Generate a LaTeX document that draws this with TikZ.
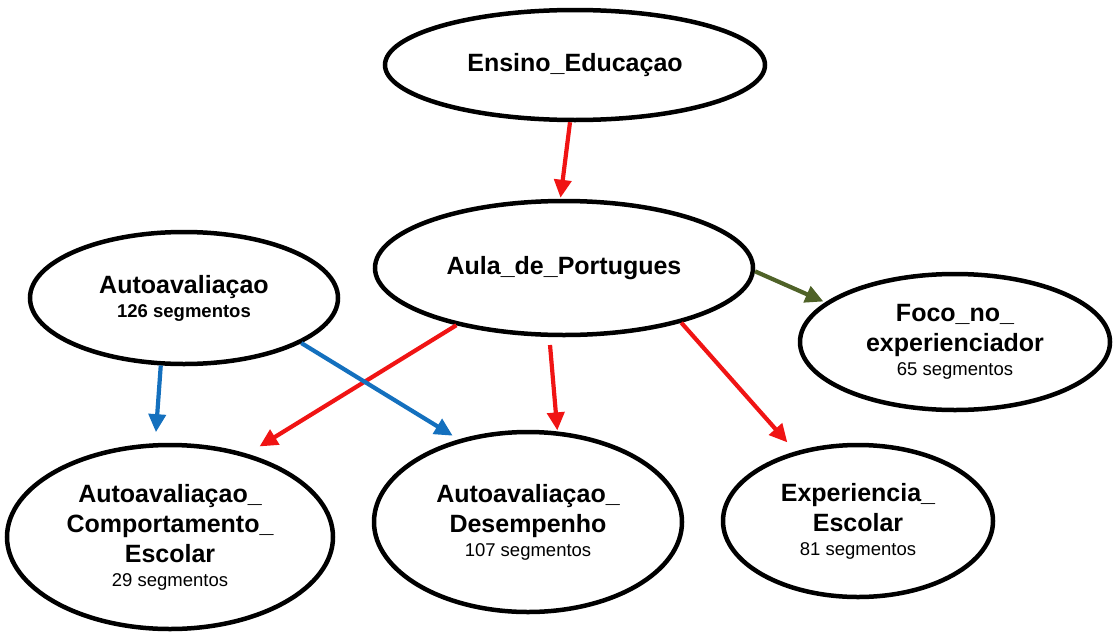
\documentclass[tikz,border=0pt]{standalone}
\usepackage{fontspec}
\setmainfont{Liberation Sans}
\usetikzlibrary{shapes.geometric,arrows.meta}
\definecolor{arrred}{RGB}{240,20,20}
\definecolor{arrblue}{RGB}{20,112,190}
\definecolor{arrgreen}{RGB}{79,98,40}
\newcommand{\tfont}{\fontsize{25}{30}\selectfont\bfseries}
\newcommand{\segr}{\fontsize{18.5}{21}\selectfont\mdseries}
\newcommand{\segb}{\fontsize{18.5}{21}\selectfont\bfseries}
\tikzset{
  ell/.style={ellipse, draw=black, line width=4.5pt, fill=white, inner sep=0pt, align=center, font=\tfont},
  conn/.style={line width=4.2pt, -{Triangle[length=18pt,width=17pt]}},
  redconn/.style={conn, draw=arrred, fill=arrred},
  blueconn/.style={conn, draw=arrblue, fill=arrblue},
  greenconn/.style={conn, draw=arrgreen, fill=arrgreen}
}
\begin{document}
\begin{tikzpicture}[x=1pt,y=-1pt]
\useasboundingbox (0,0) rectangle (1113,632);
\node[ell, minimum width=380pt, minimum height=110pt] (ensino) at (575,65) {Ensino\_Educaçao};
\node[ell, minimum width=378pt, minimum height=134pt] (aula) at (564,268) {Aula\_de\_Portugues};
\node[ell, minimum width=308pt, minimum height=132pt] (auto) at (184,298) {Autoavaliaçao\\[-6pt]\segb 126 segmentos};
\node[ell, minimum width=310pt, minimum height=136pt] (foco) at (955,342) {Foco\_no\_\\ experienciador\\[-6pt]\segr 65 segmentos};
\node[ell, minimum width=326pt, minimum height=184pt] (comp) at (170,537) {Autoavaliaçao\_\\ Comportamento\_\\ Escolar\\[-6pt]\segr 29 segmentos};
\node[ell, minimum width=308pt, minimum height=180pt] (desemp) at (528,522) {Autoavaliaçao\_\\ Desempenho\\[-6pt]\segr 107 segmentos};
\node[ell, minimum width=270pt, minimum height=152pt] (exper) at (858,521) {Experiencia\_\\ Escolar\\[-6pt]\segr 81 segmentos};

\draw[redconn, shorten >=1pt] (ensino.-95) -- (aula.93);
\draw[greenconn, shorten >=2pt] (aula.-1) -- (foco.163.5);
\draw[redconn, shorten >=14pt] (aula.-152.8) -- (comp.47.2);
\draw[redconn, shorten <=8pt, shorten >=1pt] (aula.-102) -- (desemp.72.7);
\draw[redconn, shorten >=12pt] (aula.-25.6) -- (exper.132.3);
\draw[blueconn, shorten >=11pt] (auto.-109.7) -- (comp.99.5);
\draw[blueconn, shorten >=7pt] (auto.-21.7) -- (desemp.130);
\end{tikzpicture}
\end{document}
